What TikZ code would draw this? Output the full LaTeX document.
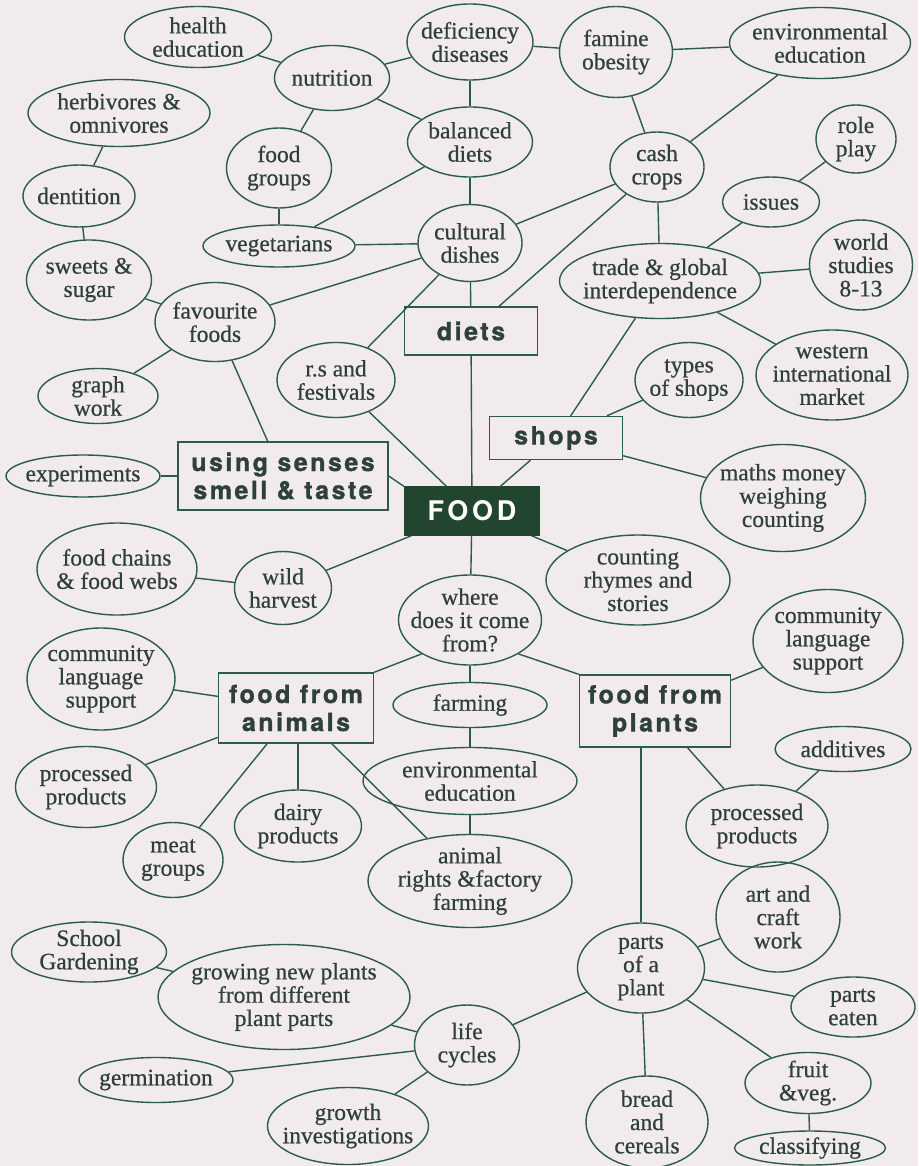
\documentclass[tikz,border=0pt]{standalone}
\usepackage{fontspec}
\setmainfont{Liberation Serif}[FakeBold=0.6]
\newfontfamily\hdfont[LetterSpace=10,FakeBold=1.2]{TeX Gyre Heros}
\newfontfamily\foodfont[LetterSpace=14]{TeX Gyre Heros}
\usetikzlibrary{shapes.geometric}
\definecolor{bgc}{HTML}{F1EBEC}
\definecolor{lnc}{HTML}{2C5C47}
\definecolor{txc}{HTML}{2F403A}
\definecolor{foodc}{HTML}{21452F}
\begin{document}
\begin{tikzpicture}[x=1pt,y=-1pt,
  ell/.style={ellipse,draw=lnc,line width=1.4pt,inner sep=-40pt,align=center,text=txc,
    font=\fontsize{23.5}{23.3}\selectfont},
  box/.style={rectangle,draw=lnc,line width=1.4pt,inner sep=0pt,align=center,text=txc,
    font=\hdfont\bfseries\fontsize{25}{28}\selectfont},
  link/.style={draw=lnc,line width=1.4pt}]
\fill[bgc] (0,0) rectangle (918,1166);
\useasboundingbox (0,0) rectangle (918,1166);
\clip (0,0) rectangle (918,1166);

% ---- top area
\node[ell,minimum width=147pt,minimum height=61pt] (health) at (198,37) {health\\education};
\node[ell,minimum width=115pt,minimum height=65pt] (nutr) at (332,78) {nutrition};
\node[ell,minimum width=126pt,minimum height=76pt] (defic) at (470,42) {deficiency\\diseases};
\node[ell,minimum width=113pt,minimum height=91pt] (famine) at (616,52) {famine\\obesity};
\node[ell,minimum width=181pt,minimum height=71pt] (envtop) at (820,43) {environmental\\education};
\node[ell,minimum width=182pt,minimum height=67pt] (herb) at (119,113) {herbivores \&\\omnivores};
\node[ell,minimum width=105pt,minimum height=80pt] (fgroups) at (279,168) {food\\groups};
\node[ell,minimum width=125pt,minimum height=70pt] (balanced) at (470,142) {balanced\\diets};
\node[ell,minimum width=112pt,minimum height=62pt] (dent) at (79,196) {dentition};
\node[ell,minimum width=152pt,minimum height=42pt] (veg) at (279,246) {vegetarians};
\node[ell,minimum width=104pt,minimum height=77pt] (cultural) at (470,243) {cultural\\dishes};
\node[ell,minimum width=94pt,minimum height=70pt] (cash) at (657,167) {cash\\crops};
\node[ell,minimum width=80pt,minimum height=68pt] (role) at (856,139) {role\\play};
\node[ell,minimum width=97pt,minimum height=50pt] (issues) at (771,202) {issues};
\node[ell,minimum width=201pt,minimum height=75pt] (trade) at (660,281) {trade \& global\\interdependence};
\node[ell,minimum width=103pt,minimum height=90pt] (world) at (861,265) {world\\studies\\8-13};
\node[ell,minimum width=125pt,minimum height=80pt] (sweets) at (89,280) {sweets \&\\sugar};
\node[ell,minimum width=120pt,minimum height=79pt] (fav) at (215,322) {favourite\\foods};
\node[box,minimum width=133pt,minimum height=48pt] (diets) at (471,331) {diets};
\node[ell,minimum width=120pt,minimum height=55pt] (graph) at (98,396) {graph\\work};
\node[ell,minimum width=118pt,minimum height=75pt] (rs) at (336,380) {r.s and\\festivals};
\node[ell,minimum width=108pt,minimum height=75pt] (types) at (689,380) {types\\of shops};
\node[ell,minimum width=152pt,minimum height=90pt] (western) at (832,375) {western\\international\\market};
\node[box,minimum width=133pt,minimum height=43pt] (shops) at (556,438) {shops};
\node[ell,minimum width=154pt,minimum height=42pt] (exper) at (83,476) {experiments};
\node[box,minimum width=210pt,minimum height=68pt] (senses) at (283,476) {using senses\\smell \& taste};
\node[rectangle,fill=foodc,draw=foodc,line width=1.4pt,minimum width=135pt,minimum height=48pt,inner sep=0pt,
  text=white,font=\foodfont\bfseries\fontsize{27}{28}\selectfont] (food) at (472,511) {FOOD};
\node[ell,minimum width=165pt,minimum height=107pt] (maths) at (783,498) {maths money\\weighing\\counting};
% ---- middle
\node[ell,minimum width=160pt,minimum height=92pt] (chains) at (117,569) {food chains\\\& food webs};
\node[ell,minimum width=97pt,minimum height=73pt] (wild) at (283,588) {wild\\harvest};
\node[ell,minimum width=184pt,minimum height=90pt] (rhymes) at (638,580) {counting\\rhymes and\\stories};
\node[ell,minimum width=143pt,minimum height=90pt] (where) at (470,620) {where\\does it come\\from?};
\node[ell,minimum width=148pt,minimum height=102pt] (commL) at (101,679) {community\\language\\support};
\node[ell,minimum width=150pt,minimum height=103pt] (commR) at (828,641) {community\\language\\support};
\node[box,minimum width=155pt,minimum height=70pt] (animals) at (296,708) {food from\\animals};
\node[ell,minimum width=154pt,minimum height=45pt] (farming) at (470,705) {farming};
\node[box,minimum width=151pt,minimum height=72pt] (plants) at (655,711) {food from\\plants};
\node[ell,minimum width=136pt,minimum height=45pt] (additives) at (843,749) {additives};
\node[ell,minimum width=214pt,minimum height=67pt] (env2) at (470,781) {environmental\\education};
\node[ell,minimum width=141pt,minimum height=81pt] (procL) at (86,787) {processed\\products};
\node[ell,minimum width=127pt,minimum height=72pt] (dairy) at (298,826) {dairy\\products};
\node[ell,minimum width=142pt,minimum height=82pt] (procR) at (757,826) {processed\\products};
\node[ell,minimum width=100pt,minimum height=75pt] (meat) at (173,860) {meat\\groups};
\node[ell,minimum width=204pt,minimum height=93pt] (arights) at (470,881) {animal\\rights \&factory\\farming};
% ---- bottom
\node[ell,minimum width=124pt,minimum height=110pt] (art) at (778,917) {art and\\craft\\work};
\node[ell,minimum width=155pt,minimum height=60pt] (school) at (89,952) {School\\Gardening};
\node[ell,minimum width=252pt,minimum height=105pt] (growing) at (284,997) {growing new plants\\from different\\plant parts};
\node[ell,minimum width=127pt,minimum height=90pt] (parts) at (641,968) {parts\\of a\\plant};
\node[ell,minimum width=124pt,minimum height=60pt] (eaten) at (853,1007) {parts\\eaten};
\node[ell,minimum width=105pt,minimum height=80pt] (life) at (467,1045) {life\\cycles};
\node[ell,minimum width=154pt,minimum height=45pt] (germ) at (156,1080) {germination};
\node[ell,minimum width=161pt,minimum height=77pt] (growth) at (348,1126) {growth\\investigations};
\node[ell,minimum width=126pt,minimum height=61pt] (fruit) at (808,1083) {fruit\\\&veg.};
\node[ell,minimum width=122pt,minimum height=92pt] (bread) at (647,1122) {bread\\and\\cereals};
\node[ell,minimum width=151pt,minimum height=34pt] (classif) at (810,1148) {classifying};

% ---- connectors
\draw[link] (health) -- (nutr);
\draw[link] (nutr) -- (defic);
\draw[link] (nutr) -- (balanced);
\draw[link] (nutr) -- (fgroups);
\draw[link] (defic) -- (balanced);
\draw[link] (defic) -- (famine);
\draw[link] (famine) -- (envtop);
\draw[link] (famine) -- (cash);
\draw[link] (envtop) -- (cash);
\draw[link] (herb) -- (dent);
\draw[link] (dent) -- (sweets);
\draw[link] (fgroups) -- (veg);
\draw[link] (veg) -- (balanced);
\draw[link] (veg) -- (cultural);
\draw[link] (balanced) -- (cultural);
\draw[link] (sweets) -- (fav);
\draw[link] (fav) -- (cultural);
\draw[link] (cultural) -- (cash);
\draw[link] (cultural) -- (rs);
\draw[link] (cultural) -- (diets);
\draw[link] (cash) -- (diets);
\draw[link] (cash) -- (trade);
\draw[link] (role) -- (issues);
\draw[link] (issues) -- (trade);
\draw[link] (trade) -- (world);
\draw[link] (trade) -- (western);
\draw[link] (trade) -- (shops);
\draw[link] (fav) -- (graph);
\draw[link] (fav) -- (senses);
\draw[link] (rs) -- (food);
\draw[link] (diets) -- (food);
\draw[link] (shops) -- (types);
\draw[link] (shops) -- (maths);
\draw[link] (shops) -- (food);
\draw[link] (exper) -- (senses);
\draw[link] (senses.east) -- (food.north west);
\draw[link] (food) -- (wild);
\draw[link] (chains) -- (wild);
\draw[link] (food) -- (rhymes);
\draw[link] (food) -- (where);
\draw[link] (where.-145) -- (animals.north east);
\draw[link] (where.-35) -- (plants.north west);
\draw[link] (where) -- (farming);
\draw[link] (farming) -- (env2);
\draw[link] (env2) -- (arights);
\draw[link] (animals) -- (commL);
\draw[link] (animals) -- (procL);
\draw[link] (animals) -- (meat);
\draw[link] (dairy.north) -- (dairy.north |- animals.south);
\draw[link] (animals) -- (arights);
\draw[link] (plants) -- (commR);
\draw[link] (plants) -- (procR);
\draw[link] (procR) -- (additives);
\draw[link] (parts.north) -- (parts.north |- plants.south);
\draw[link] (parts) -- (art);
\draw[link] (parts) -- (eaten);
\draw[link] (parts) -- (fruit);
\draw[link] (parts) -- (bread);
\draw[link] (parts) -- (life);
\draw[link] (fruit) -- (classif);
\draw[link] (life) -- (growing);
\draw[link] (life) -- (germ);
\draw[link] (life) -- (growth);
\draw[link] (school) -- (growing);
\end{tikzpicture}
\end{document}
